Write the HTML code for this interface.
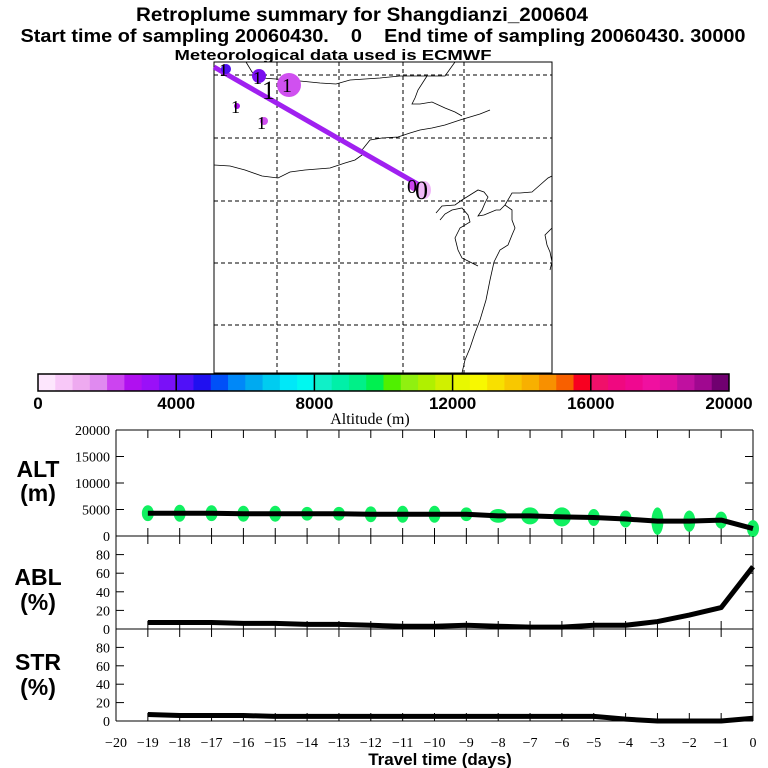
<!DOCTYPE html>
<html><head><meta charset="utf-8"><style>
html,body{margin:0;padding:0;background:#fff;}
svg{display:block;font-family:"Liberation Sans",sans-serif;}
</style></head><body>
<svg id="chart" width="768" height="768" viewBox="0 0 768 768" xmlns="http://www.w3.org/2000/svg">
<text x="362" y="21" font-size="19" font-weight="bold" text-anchor="middle" textLength="452" lengthAdjust="spacingAndGlyphs">Retroplume summary for Shangdianzi_200604</text>
<text x="383" y="42" font-size="18" font-weight="bold" text-anchor="middle" textLength="725" lengthAdjust="spacingAndGlyphs" xml:space="preserve">Start time of sampling 20060430.    0    End time of sampling 20060430. 30000</text>
<text x="333" y="60" font-size="15" font-weight="bold" text-anchor="middle" textLength="317" lengthAdjust="spacingAndGlyphs">Meteorological data used is ECMWF</text>

<g id="map">
 <rect x="214" y="62" width="338" height="311" fill="#fff" stroke="#000" stroke-width="1"/>
 <g stroke="#000" stroke-dasharray="4,3" stroke-width="1">
  <line x1="277" y1="62" x2="277" y2="373"/><line x1="339" y1="62" x2="339" y2="373"/>
  <line x1="403" y1="62" x2="403" y2="373"/><line x1="464" y1="62" x2="464" y2="373"/>
  <line x1="214" y1="75" x2="552" y2="75"/><line x1="214" y1="138" x2="552" y2="138"/>
  <line x1="214" y1="201" x2="552" y2="201"/><line x1="214" y1="263" x2="552" y2="263"/>
  <line x1="214" y1="325" x2="552" y2="325"/>
 </g>
 <g fill="none" stroke="#000" stroke-width="0.8">
  <path d="M246,62 L252,72 L262,78 L290,80 L320,83 L336,84 L350,80 L380,78 L400,76 L415,76 L445,76 L455,62"/>
  <path d="M427,76 L418,90 L415,98 L412,104 L420,104 L432,102 L445,108 L455,112 L462,116"/>
  <path d="M214,165 L230,166 L245,170 L262,176 L278,178 L290,172 L305,170 L330,168 L345,163 L355,160 L362,155 L362,150 L370,140 L382,138 L398,137 L410,133 L420,130 L432,128 L445,125 L460,120 L480,114 L490,110"/>
  <path d="M505,205 L512,193 L520,193 L532,192 L540,185 L548,178 L552,176"/>
  <path d="M552,228 L545,235 L547,245 L550,252 L552,262 L550,270"/>
  <path d="M436,213 L442,206 L455,205 L462,200 L470,195 L478,190 L484,192 L488,197 L485,203 L482,210 L478,216 L484,215 L496,210 L500,210 L505,205 L512,210 L512,220 L515,228 L512,235 L508,245 L500,250 L494,262 L490,280 L486,300 L480,320 L475,333 L470,348 L465,360 L462,373"/>
  <path d="M440,220 L445,214 L452,210 L462,208 L468,215 L470,222 L460,228 L455,238 L458,250 L462,258 L470,262 L478,266"/>
 </g>
 <line x1="214" y1="67" x2="421" y2="186" stroke="#a020f0" stroke-width="5"/>
 <circle cx="226" cy="69" r="5" fill="#5010f0"/>
 <circle cx="259" cy="76" r="7" fill="#7a10f0"/>
 <circle cx="289" cy="85" r="12" fill="#d050f0"/>
 <circle cx="237" cy="106" r="3" fill="#b010f0"/>
 <circle cx="264" cy="121" r="4" fill="#d050f0"/>
 <ellipse cx="424" cy="190" rx="7" ry="9" fill="#f0b8f8"/>
 <circle cx="414" cy="186" r="5" fill="#cc44f0"/>
 <g font-family="Liberation Serif,serif" font-size="22" fill="#000">
  <text x="219" y="76" font-size="18">1</text>
  <text x="253" y="84" font-size="18">1</text>
  <text x="262" y="99" font-size="26">1</text>
  <text x="282" y="92" font-size="20">1</text>
  <text x="231" y="113" font-size="18">1</text>
  <text x="257" y="129" font-size="18">1</text>
  <text x="407" y="193" font-size="20">0</text>
  <text x="415" y="199" font-size="26">0</text>
 </g>
</g>

<g id="colorbar"></g>
<text x="370" y="424" font-family="Liberation Serif,serif" font-size="16" text-anchor="middle">Altitude (m)</text>

<g id="panels"></g>
<g font-weight="bold" font-size="23" text-anchor="middle">
 <text x="38" y="477">ALT</text>
 <text x="38" y="501">(m)</text>
 <text x="38" y="585">ABL</text>
 <text x="38" y="610">(%)</text>
 <text x="38" y="670">STR</text>
 <text x="38" y="695">(%)</text>
</g>
<text x="440" y="765" font-size="17" font-weight="bold" text-anchor="middle">Travel time (days)</text>
</svg>
<script>
const cbColors=["#fde6fd","#f8c8f8","#eeaaf0","#e08af0","#cc44f0","#b010f0","#9a10f8","#7a10f8",
"#5010f8","#2010f0","#0050f8","#0088f8","#00aaf0","#00ccf0","#00e8f8","#00f8f0",
"#10f0c8","#00f0a8","#00f088","#00f050","#50f000","#90f010","#b0f000","#d0f000",
"#e8f800","#f8f800","#f8e000","#f8c800","#f8b000","#f89000","#f86000","#f80020",
"#f0106a","#f00880","#f00890","#f010a0","#e010a0","#c010a0","#a00890","#700070"];
const cbTicks=[0,4000,8000,12000,16000,20000];
const days=[-19,-18,-17,-16,-15,-14,-13,-12,-11,-10,-9,-8,-7,-6,-5,-4,-3,-2,-1,0];
const altValues=[4300,4300,4300,4200,4200,4200,4200,4100,4100,4100,4100,3800,3800,3600,3500,3200,2800,2800,3000,1400];
const ablValues=[7,7,7,6,6,5,5,4,3,3,4,3,2,2,4,4,8,15,23,67];
const strValues=[7,6,6,6,5,5,5,5,5,5,5,5,5,5,5,2,0,0,0,3];
const altBlobSize=[1500,1600,1500,1500,1500,1300,1300,1500,1600,1600,1300,1300,1600,1800,1600,1600,2600,2000,1600,1600];
const xTickLabels=[-20,-19,-18,-17,-16,-15,-14,-13,-12,-11,-10,-9,-8,-7,-6,-5,-4,-3,-2,-1,0];
const altTicks=[0,5000,10000,15000,20000];
const pctTicks=[0,20,40,60,80];

const NS="http://www.w3.org/2000/svg";
function mk(tag,attrs,parent){const e=document.createElementNS(NS,tag);for(const k in attrs)e.setAttribute(k,attrs[k]);parent.appendChild(e);return e;}
const cb=document.getElementById('colorbar');
const cbX0=38,cbX1=729,cbY=374,cbH=17;
const cbx=v=>cbX0+(v/20000)*(cbX1-cbX0);
cbColors.forEach((c,i)=>{const r=mk('rect',{x:cbx(i*500),y:cbY,width:(cbX1-cbX0)/40+0.5,height:cbH,fill:c},cb);

});
mk('rect',{x:cbX0,y:cbY,width:cbX1-cbX0,height:cbH,fill:'none',stroke:'#000','stroke-width':1.5},cb);
cbTicks.forEach(t=>{if(t>0&&t<20000)mk('line',{x1:cbx(t),y1:cbY,x2:cbx(t),y2:cbY+cbH,stroke:'#000','stroke-width':1.5},cb);
const tx=mk('text',{x:cbx(t),y:409,'font-size':17,'font-weight':'bold','text-anchor':'middle'},cb);tx.textContent=t;

});

const P=document.getElementById('panels');
const X0=116,X1=753;
const xs=d=>X0+(d+20)/20*(X1-X0);
const panels=[
 {name:'alt',top:430,bot:536,max:20000,ticks:altTicks,vals:altValues,tickLen:8},
 {name:'abl',top:536,bot:629,max:100,ticks:pctTicks,vals:ablValues,tickLen:8},
 {name:'str',top:629,bot:721,max:100,ticks:pctTicks,vals:strValues,tickLen:8}];
panels.forEach(p=>{
 const g=mk('g',{},P);
 
 
 const ys=v=>p.bot-(v/p.max)*(p.bot-p.top);
 mk('line',{x1:X0,y1:p.top,x2:X0,y2:p.bot,stroke:'#000'},g);
 mk('line',{x1:X1,y1:p.top,x2:X1,y2:p.bot,stroke:'#000'},g);
 mk('line',{x1:X0,y1:p.bot,x2:X1,y2:p.bot,stroke:'#000'},g);
 if(p.name==='alt')mk('line',{x1:X0,y1:p.top,x2:X1,y2:p.top,stroke:'#000'},g);
 days.forEach(d=>{if(d===0)return;
  mk('line',{x1:xs(d),y1:p.top,x2:xs(d),y2:p.top+p.tickLen,stroke:'#000'},g);
  mk('line',{x1:xs(d),y1:p.bot,x2:xs(d),y2:p.bot-p.tickLen,stroke:'#000'},g);});
 p.ticks.forEach(t=>{
  const y=ys(t);
  if(t>0){mk('line',{x1:X0,y1:y,x2:X0+8,y2:y,stroke:'#000'},g);mk('line',{x1:X1,y1:y,x2:X1-8,y2:y,stroke:'#000'},g);}
  const tx=mk('text',{x:X0-6,y:y+5,'font-size':14,'font-family':'Liberation Serif,serif','text-anchor':'end'},g);tx.textContent=t;
  
  });
 if(p.name==='alt'){
  days.forEach((d,i)=>{const e=mk('ellipse',{cx:xs(d),cy:ys(altValues[i]),rx:d>-9&&d<-5?9:6,ry:(altBlobSize[i]/p.max)*(p.bot-p.top),fill:'#10f060'},g);
  
  });
 }
 const pts=days.map((d,i)=>xs(d)+','+ys(p.vals[i])).join(' ');
 const pl=mk('polyline',{points:pts,fill:'none',stroke:'#000','stroke-width':5,'stroke-linejoin':'round'},g);
 
 
});
xTickLabels.forEach(d=>{const tx=mk('text',{x:xs(d),y:747,'font-size':14,'font-family':'Liberation Serif,serif','text-anchor':'middle'},P);tx.textContent=d<0?'\u2212'+(-d):d;

});
</script>
</body></html>
